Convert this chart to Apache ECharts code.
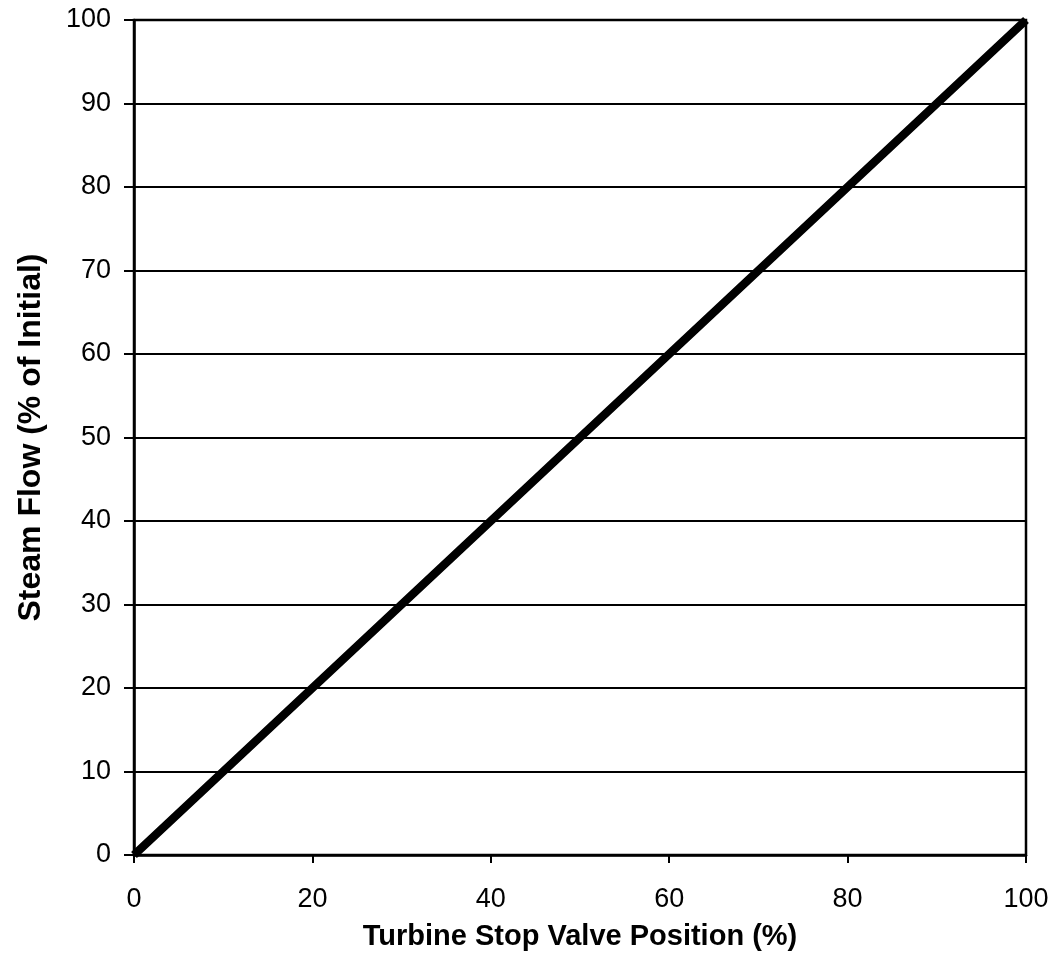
<!DOCTYPE html>
<html>
<head>
<meta charset="utf-8">
<script src="https://cdn.jsdelivr.net/npm/echarts@6/dist/echarts.min.js"></script>
<style>html,body{margin:0;padding:0;background:#fff}#c{width:1062px;height:969px}</style>
</head>
<body>
<div id="c"></div>
<script>
const valvePosition = [0, 10, 20, 30, 40, 50, 60, 70, 80, 90, 100];
const steamFlow = [0, 10, 20, 30, 40, 50, 60, 70, 80, 90, 100];
const xTitle = 'Turbine Stop Valve Position (%)';
const yTitle = 'Steam Flow (% of Initial)';

const chart = echarts.init(document.getElementById('c'));
chart.setOption({
  animation: false,
  backgroundColor: '#fff',
  grid: { left: 134, right: 36, top: 20, bottom: 114, show: true, borderColor: '#000', borderWidth: 2.5, backgroundColor: 'transparent' },
  xAxis: {
    type: 'value', min: 0, max: 100, interval: 20,
    name: xTitle, nameLocation: 'middle', nameGap: 67,
    nameTextStyle: { fontFamily: 'Liberation Sans', fontWeight: 'bold', fontSize: 29, color: '#000' },
    axisLine: { show: true, lineStyle: { color: '#000', width: 2.5 } },
    axisTick: { show: true, length: 8, lineStyle: { color: '#000', width: 2 } },
    axisLabel: { fontFamily: 'Liberation Sans', fontSize: 27, color: '#000', margin: 31 },
    splitLine: { show: false }
  },
  yAxis: {
    type: 'value', min: 0, max: 100, interval: 10,
    name: yTitle, nameLocation: 'middle', nameGap: 87, nameRotate: 90,
    nameTextStyle: { fontFamily: 'Liberation Sans', fontWeight: 'bold', fontSize: 32, color: '#000' },
    axisLine: { show: true, lineStyle: { color: '#000', width: 2.5 } },
    axisTick: { show: true, length: 10, lineStyle: { color: '#000', width: 2 } },
    axisLabel: { fontFamily: 'Liberation Sans', fontSize: 27, color: '#000', margin: 23 },
    splitLine: { show: true, lineStyle: { color: '#000', width: 2 } }
  },
  series: [{
    type: 'line',
    data: valvePosition.map((x, i) => [x, steamFlow[i]]),
    symbol: 'none',
    lineStyle: { color: '#000', width: 8.5 }
  }]
});
</script>
</body>
</html>
